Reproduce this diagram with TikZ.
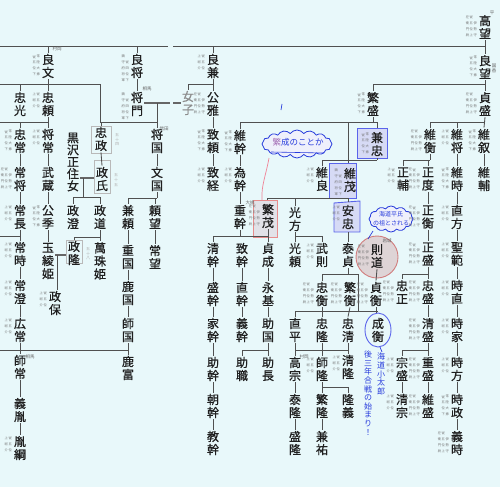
\documentclass[tikz,border=0pt]{standalone}
\usepackage{fontspec}
\newfontfamily\cjk{Noto Sans CJK JP}
\newfontfamily\cjkb{Noto Sans CJK JP}[FakeBold=0.8]
\usetikzlibrary{shapes.symbols,shapes.geometric}
\definecolor{bg}{RGB}{232,248,250}
\definecolor{linec}{RGB}{80,80,80}
\definecolor{bbox}{RGB}{90,100,235}
\definecolor{bfill}{RGB}{214,218,245}
\definecolor{pbox}{RGB}{232,140,140}
\definecolor{pfill}{RGB}{226,226,232}
\definecolor{cfill}{RGB}{222,212,214}
\definecolor{handc}{RGB}{40,60,220}
\definecolor{pinkl}{RGB}{240,130,150}
\newcommand\nmx[4]{\node[nm] (#1) at (#2,#3) {#4};}
\newcommand\vl[2]{\draw[ln] (#1.south) -- (#2.north);}
\newcommand\dn[2]{\draw[ln] (#1.north) -- (#1.north |- 0,#2);}
\newcommand\upl[2]{\draw[ln] (#1.south) -- (#1.south |- 0,#2);}
\newcommand\hb[3]{\draw[ln] (#1,#3) -- (#2,#3);}
\newcommand\annot[2]{\node[ann,anchor=north east] at ([xshift=-0.5pt,yshift=-1.5pt]#1.north west) {#2};}
\def\rkA{\shortstack{従\\五\\位\\下}\kern.5pt\shortstack{常\\陸\\大\\掾}}
\def\rkB{\shortstack{鎮\\守\\府\\将\\軍}\kern.5pt\shortstack{従\\四\\位\\下}}
\def\rkC{\shortstack{上\\総\\介}\kern.5pt\shortstack{従\\五\\位}}
\def\rkD{\shortstack{左\\衛\\門\\尉}\kern.5pt\shortstack{従\\五\\位\\上}\kern.5pt\shortstack{伊\\勢\\守}}
\begin{document}
\begin{tikzpicture}[x=1pt,y=-1pt,
  nm/.style={font=\cjkb\fontsize{12}{13}\selectfont,align=center,inner sep=1.1pt,text=black!88},
  ln/.style={draw=linec,line width=0.85pt},
  mar/.style={draw=gray!80!black,line width=2.4pt},
  ann/.style={font=\cjk\fontsize{3.3}{3.7}\selectfont,text=black!55,inner sep=0.2pt,align=center},
  lab/.style={font=\cjk\fontsize{4.5}{5}\selectfont,text=black!60,inner sep=0.2pt,align=center},
  gen/.style={font=\cjk\fontsize{4}{4.6}\selectfont,text=black!30,inner sep=0.2pt,align=center},
  hand/.style={font=\cjk\fontsize{8}{8.6}\selectfont,text=handc,inner sep=0pt,align=center},
  bluebox/.style={draw=bbox,fill=bfill,line width=0.9pt},
  graybox/.style={draw=gray!55,line width=0.8pt},
]
\fill[bg] (0,0) rectangle (500,487);
\useasboundingbox (0,0) rectangle (500,487);
% boxes
\draw[graybox] (91,126) rectangle (111,153);
\draw[graybox] (94,160) rectangle (110,193);
\draw[graybox] (66,240) rectangle (82,263);
\draw[bluebox] (357,128) rectangle (387,158);
\draw[bluebox] (329,163) rectangle (356,198);
\draw[bluebox] (334,203) -- (360,201) -- (360,232) -- (334,232) -- cycle;
\draw[draw=pbox,fill=pfill,line width=0.8pt] (253,200) rectangle (277,237);
\draw[draw=pbox!90!black,fill=cfill,line width=0.9pt] (377,257) circle (21);
\draw[draw=bbox,line width=0.9pt] (378,330) ellipse (13 and 17);
% clouds
\node[cloud,draw=handc,fill=white!60!bfill,line width=0.8pt,cloud puffs=16,cloud puff arc=110,aspect=2.5,minimum width=70pt,minimum height=28pt,inner sep=0pt] (cl1) at (297,144) {};
\node[cloud,draw=handc,fill=white!60!bfill,line width=0.8pt,cloud puffs=12,cloud puff arc=110,aspect=1.7,minimum width=44pt,minimum height=26pt,inner sep=0pt] (cl2) at (391,219) {};
% names
\nmx{gao}{485}{27}{高\\望}
\nmx{ryobun}{48}{66}{良\\文}
\nmx{ryosho}{137}{66}{良\\将}
\nmx{ryoken}{213}{66}{良\\兼}
\nmx{ryobo}{485}{67}{良\\望}
\nmx{tadamitsu}{20}{104}{忠\\光}
\nmx{tadayori}{48}{104}{忠\\頼}
\nmx{masakado}{137}{104}{将\\門}
\node[nm,text=black!45] (joshi) at (188,103) {女\\子};
\nmx{kinmasa}{213}{104}{公\\雅}
\nmx{shigemori}{373}{104}{繁\\盛}
\nmx{sadamori}{485}{104}{貞\\盛}
\nmx{tadatsune}{20}{141}{忠\\常}
\nmx{masatsune}{48}{141}{将\\常}
\nmx{tadamasa}{101}{139}{忠\\政}
\nmx{masakuni}{157}{141}{将\\国}
\nmx{muneyori}{213}{141}{致\\頼}
\nmx{koremoto}{240}{142}{維\\幹}
\nmx{kanetada}{377}{144}{兼\\忠}
\nmx{korehira}{430}{141}{維\\衡}
\nmx{koremasa}{457}{141}{維\\将}
\nmx{korenobu}{484}{141}{維\\叙}
\node[nm,font=\cjkb\fontsize{12}{12}\selectfont] (kurosawa) at (73,162) {黒\\沢\\正\\住\\女};
\nmx{tsunemasa}{20}{179}{常\\将}
\nmx{musashi}{48}{179}{武\\蔵}
\nmx{masauji}{102}{179}{政\\氏}
\nmx{fumikuni}{157}{179}{文\\国}
\nmx{munetsune}{213}{179}{致\\経}
\nmx{tamemoto}{240}{179}{為\\幹}
\nmx{koreyoshi}{322}{179}{維\\良}
\nmx{koremochi}{350}{180}{維\\茂}
\nmx{masasuke}{403}{179}{正\\輔}
\nmx{masanori}{428}{179}{正\\度}
\nmx{koretoki}{457}{179}{維\\時}
\nmx{koresuke}{484}{179}{維\\輔}
\nmx{tsunenaga}{20}{217}{常\\長}
\nmx{kinsue}{48}{217}{公\\季}
\nmx{masazumi}{73}{217}{政\\澄}
\nmx{masamichi}{100}{217}{政\\道}
\nmx{kaneyori}{128}{217}{兼\\頼}
\nmx{yorimochi}{155}{217}{頼\\望}
\nmx{shigemoto}{240}{217}{重\\幹}
\nmx{shigeshige}{268}{216}{繁\\茂}
\nmx{mitsukata}{295}{219}{光\\方}
\nmx{yasutada}{348}{217}{安\\忠}
\nmx{masahira}{428}{217}{正\\衡}
\nmx{naokata}{457}{217}{直\\方}
\nmx{tsunetoki}{20}{254}{常\\時}
\nmx{tamaaya}{48}{261}{玉\\綾\\姫}
\nmx{masataka}{74}{253}{政\\隆}
\nmx{manju}{100}{261}{萬\\珠\\姫}
\nmx{shigekuni}{128}{257}{重\\国}
\nmx{tsunemochi}{155}{257}{常\\望}
\nmx{kiyomoto}{213}{255}{清\\幹}
\nmx{munemoto}{242}{255}{致\\幹}
\nmx{sadashige}{268}{255}{貞\\成}
\nmx{mitsuyori}{295}{255}{光\\頼}
\nmx{taketsu}{322}{255}{武\\則}
\nmx{yasusada}{348}{255}{泰\\貞}
\nmx{norimichi}{377}{256}{則\\道}
\nmx{masamori}{428}{254}{正\\盛}
\nmx{hiji}{457}{254}{聖\\範}
\nmx{tsunezumi}{20}{292}{常\\澄}
\nmx{masayasu}{55}{303}{政\\保}
\nmx{kanokuni}{128}{293}{鹿\\国}
\nmx{morimoto}{213}{294}{盛\\幹}
\nmx{naomoto}{242}{294}{直\\幹}
\nmx{nagamoto}{268}{294}{永\\基}
\nmx{tadahira}{322}{294}{忠\\衡}
\nmx{shigehira}{350}{294}{繁\\衡}
\nmx{sadahira}{376}{294}{貞\\衡}
\nmx{tadamasab}{402}{292}{忠\\正}
\nmx{tadamori}{428}{292}{忠\\盛}
\nmx{tokinao}{457}{292}{時\\直}
\nmx{hirotsune}{20}{330}{広\\常}
\nmx{morokuni}{128}{330}{師\\国}
\nmx{iemoto}{213}{330}{家\\幹}
\nmx{yoshimoto}{242}{330}{義\\幹}
\nmx{sukekuni}{268}{330}{助\\国}
\nmx{naohira}{295}{330}{直\\平}
\nmx{tadataka}{322}{330}{忠\\隆}
\nmx{tadakiyo}{348}{330}{忠\\清}
\nmx{narihira}{378}{330}{成\\衡}
\nmx{kiyomori}{428}{330}{清\\盛}
\nmx{tokiie}{457}{330}{時\\家}
\nmx{morotsune}{20}{367}{師\\常}
\nmx{katomi}{128}{368}{鹿\\富}
\nmx{sukemotoa}{213}{369}{助\\幹}
\nmx{sukemotob}{242}{369}{助\\職}
\nmx{sukenaga}{268}{369}{助\\長}
\nmx{takamune}{295}{369}{高\\宗}
\nmx{morotaka}{322}{369}{師\\隆}
\nmx{kiyotaka}{348}{367}{清\\隆}
\nmx{munemori}{402}{369}{宗\\盛}
\nmx{shigemorib}{428}{369}{重\\盛}
\nmx{tokikata}{457}{369}{時\\方}
\nmx{yoshitane}{20}{410}{義\\胤}
\nmx{tomomoto}{213}{406}{朝\\幹}
\nmx{yasutaka}{295}{406}{泰\\隆}
\nmx{shigetaka}{322}{406}{繁\\隆}
\nmx{takayoshi}{348}{406}{隆\\義}
\nmx{kiyomune}{402}{406}{清\\宗}
\nmx{koremori}{428}{406}{維\\盛}
\nmx{tokimasa}{457}{406}{時\\政}
\nmx{tanetsuna}{20}{448}{胤\\綱}
\nmx{norimoto}{213}{443}{教\\幹}
\nmx{moritaka}{295}{443}{盛\\隆}
\nmx{kanesuke}{322}{443}{兼\\祐}
\nmx{yoshitoki}{457}{443}{義\\時}
% ---- connectors
\hb{0}{168}{46} \hb{173}{485}{46}
\dn{ryobun}{46} \dn{ryosho}{46} \dn{ryoken}{46}
\vl{gao}{ryobo}
\hb{0}{100}{84} \dn{tadamitsu}{84} \vl{ryobun}{tadayori}
\draw[ln] (100,84) -- (100,122);
\vl{ryosho}{masakado}
\hb{188}{213}{84} \dn{joshi}{84} \vl{ryoken}{kinmasa}
\hb{373}{485}{84} \dn{shigemori}{84} \vl{ryobo}{sadamori}
\hb{0}{48}{122} \dn{tadatsune}{122} \vl{tadayori}{masatsune}
\draw[mar] (masakado.east |- 0,103) -- (170,103);
\draw[mar] (173,103) -- (joshi.west |- 0,103);
\draw[ln] (157,103) -- (157,122);
\hb{100}{157}{122} \dn{tadamasa}{122} \dn{masakuni}{122}
\vl{kinmasa}{muneyori}
\hb{240}{377}{122} \upl{shigemori}{122} \dn{koremoto}{122} \draw[ln] (377,122) -- (377,128);
\draw[ln] (348,122) -- (348,163);
\hb{430}{485}{122} \dn{korehira}{122} \dn{koremasa}{122} \vl{sadamori}{korenobu}
\vl{tadatsune}{tsunemasa} \vl{masatsune}{musashi} \vl{tadamasa}{masauji} \vl{masakuni}{fumikuni}
\vl{muneyori}{munetsune} \vl{koremoto}{tamemoto}
\hb{322}{377}{160} \draw[ln] (377,158) -- (377,160); \dn{koreyoshi}{160}
\hb{403}{430}{160} \upl{korehira}{160} \dn{masasuke}{160} \dn{masanori}{160}
\vl{koremasa}{koretoki} \vl{korenobu}{koresuke}
\vl{tsunemasa}{tsunenaga} \vl{musashi}{kinsue}
\draw[mar] (kurosawa.east |- 0,178) -- (94,178);
\draw[ln] (83,178) -- (83,197);
\hb{73}{100}{197} \dn{masazumi}{197} \dn{masamichi}{197}
\hb{128}{157}{198} \upl{fumikuni}{198} \dn{kaneyori}{198} \dn{yorimochi}{198}
\vl{tamemoto}{shigemoto}
\hb{267}{348}{198} \draw[ln] (267,198) -- (267,200); \dn{mitsukata}{198} \draw[ln] (348,198) -- (348,202);
\vl{masanori}{masahira} \vl{koretoki}{naokata}
\hb{0}{20}{236} \vl{tsunenaga}{tsunetoki}
\vl{kinsue}{tamaaya}
\hb{74}{100}{237} \draw[ln] (74,237) -- (74,240); \vl{masamichi}{manju}
\vl{kaneyori}{shigekuni} \vl{yorimochi}{tsunemochi}
\hb{213}{268}{236} \dn{kiyomoto}{236} \upl{shigemoto}{236} \vl{shigeshige}{sadashige}
\hb{295}{322}{236} \vl{mitsukata}{mitsuyori} \dn{taketsu}{236}
\draw[ln] (348,232) -- (yasusada.north);
\vl{masahira}{masamori} \vl{naokata}{hiji}
\vl{tsunetoki}{tsunezumi}
\draw[mar] (tamaaya.east |- 0,255) -- (66,255);
\draw[ln] (57,255) -- (57,290);
\vl{shigekuni}{kanokuni}
\vl{kiyomoto}{morimoto} \vl{munemoto}{naomoto} \vl{sadashige}{nagamoto}
\hb{322}{358}{274} \upl{yasusada}{274} \dn{tadahira}{274} \draw[ln] (358,274) -- (358,311);
\vl{norimichi}{sadahira}
\hb{402}{428}{274} \dn{tadamasab}{274} \vl{masamori}{tadamori}
\vl{hiji}{tokinao}
\vl{tsunezumi}{hirotsune} \vl{kanokuni}{morokuni} \vl{morimoto}{iemoto} \vl{naomoto}{yoshimoto} \vl{nagamoto}{sukekuni}
\hb{295}{378}{311} \dn{naohira}{311} \vl{tadahira}{tadataka} \vl{shigehira}{tadakiyo} \draw[ln] (sadahira.south) -- (376,313);
\vl{tadamori}{kiyomori} \vl{tokinao}{tokiie}
\hb{0}{128}{350} \vl{hirotsune}{morotsune} \vl{morokuni}{katomi}
\vl{iemoto}{sukemotoa}
\hb{242}{268}{350} \dn{sukemotob}{350} \vl{sukekuni}{sukenaga}
\hb{295}{348}{350} \vl{naohira}{takamune} \vl{tadataka}{morotaka} \vl{tadakiyo}{kiyotaka}
\hb{402}{428}{350} \dn{munemori}{350} \vl{kiyomori}{shigemorib}
\vl{tokiie}{tokikata}
\vl{morotsune}{yoshitane} \vl{sukemotoa}{tomomoto} \vl{takamune}{yasutaka}
\hb{322}{348}{387} \vl{morotaka}{shigetaka} \dn{takayoshi}{387}
\vl{munemori}{kiyomune} \vl{shigemorib}{koremori} \vl{tokikata}{tokimasa}
\vl{yoshitane}{tanetsuna} \vl{tomomoto}{norimoto} \vl{yasutaka}{moritaka} \vl{shigetaka}{kanesuke} \vl{tokimasa}{yoshitoki}
% ---- small annotations
\annot{gao}{\rkD} \annot{ryobun}{\rkA} \annot{ryosho}{\rkB} \annot{ryoken}{\rkC} \annot{ryobo}{\rkA}
\annot{tadayori}{\rkC} \annot{masakado}{\rkB} \annot{tadatsune}{\rkA} \annot{masatsune}{\rkC}
\annot{kinmasa}{\rkD} \annot{muneyori}{\rkA} \annot{munetsune}{\rkC} \annot{koremoto}{\rkA} \annot{tamemoto}{\rkC}
\annot{shigemori}{\rkA} \annot{sadamori}{\rkD} \annot{kanetada}{\rkA} \annot{korehira}{\rkD} \annot{koremasa}{\rkC}
\annot{korenobu}{\rkA} \annot{koreyoshi}{\rkC} \annot{koremochi}{\rkB} \annot{yasutada}{\rkC} \annot{shigeshige}{\rkD}
\annot{masasuke}{\rkC} \annot{masanori}{\rkD} \annot{koretoki}{\rkA} \annot{masahira}{\rkD} \annot{naokata}{\rkC}
\annot{masamori}{\rkD} \annot{hiji}{\rkC} \annot{tadamasab}{\rkD} \annot{tadamori}{\rkD} \annot{tokinao}{\rkC}
\annot{kiyomori}{\rkD} \annot{tokiie}{\rkC} \annot{munemori}{\rkC} \annot{shigemorib}{\rkD} \annot{tokikata}{\rkC}
\annot{kiyomune}{\rkC} \annot{koremori}{\rkD} \annot{tokimasa}{\rkA} \annot{yoshitoki}{\rkD}
\annot{tsunemasa}{\rkD} \annot{tsunenaga}{\rkC} \annot{tsunetoki}{\rkC} \annot{tsunezumi}{\rkC} \annot{hirotsune}{\rkC}
\annot{kinsue}{\rkA} \annot{masayasu}{\rkC} \annot{taketsu}{\rkC} \annot{tadahira}{\rkD} \annot{shigehira}{\rkD}
\annot{sadahira}{\rkD} \annot{norimichi}{\rkD} \annot{kiyotaka}{\rkC} \annot{morotaka}{\rkC} \annot{tanetsuna}{\rkC}
% labels
\node[lab] (lb1) at (492,13) {平};
\node[lab] (lb2) at (494,68) {国\\香};
\node[lab] (lb3) at (57,49) {村岡};
\node[lab] (lb4) at (147,89) {相馬};
\node[lab] (lb5) at (164,129) {信田};
\node[lab] (lb6) at (250,203) {大掾};
\node[lab] (lb7) at (30,357) {相馬};
\node[lab] (lb8) at (304,357) {村岡};
\node[lab] (lb9) at (387,241) {岩城};
\node[gen] (g1) at (117,140) {五\\十\\四};
\node[gen] (g2) at (116,180) {五\\十\\五};
\node[gen] (g3) at (88,254) {五\\十\\八};
% handwriting
\node[hand,font=\cjk\fontsize{8.5}{9}\selectfont] (h1) at (298,142) {\textcolor{pinkl!60!handc}{繁}成のことか};
\draw[handc,line width=0.6pt] (271,152) -- (324,153);
\draw[pinkl,line width=0.7pt] (269,158) .. controls (266,175) and (261,186) .. (262,200);
\node[hand,font=\cjk\fontsize{6}{9}\selectfont] (h2) at (391,219) {海道平氏\\の祖とされる};
\draw[handc,line width=0.7pt] (373,231) -- (368,239);
\draw[handc,line width=0.7pt] (282,104) -- (281,110);
\draw[handc,line width=0.7pt] (380,347) -- (382,352);
\node[hand] (h3) at (381,374) {海\\道\\小\\太\\郎};
\node[hand] (h4) at (368,393) {後\\三\\年\\合\\戦\\の\\始\\ま\\り\\！};
\end{tikzpicture}
\end{document}
